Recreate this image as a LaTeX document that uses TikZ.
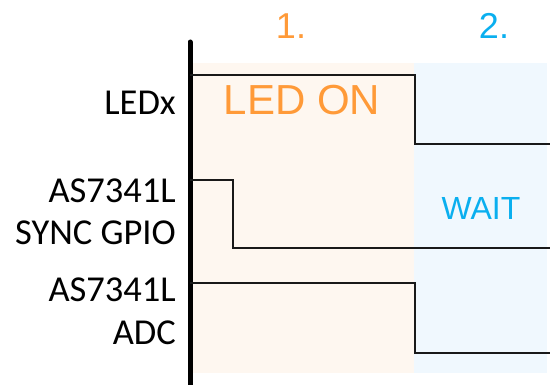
\documentclass[tikz,border=0pt]{standalone}
\usepackage{fontspec}
\setmainfont{Carlito}
\newfontfamily\arialf{Liberation Sans}
\definecolor{phaseorange}{HTML}{FF9A38}
\definecolor{phaseblue}{HTML}{0AAFEF}
\definecolor{fillorange}{HTML}{FEF7F0}
\definecolor{fillblue}{HTML}{F0F8FE}
\tikzset{
  siglabel/.style={anchor=base east, inner sep=0pt, align=right, font=\fontsize{36.5}{42}\selectfont},
  phasetitle/.style={anchor=base, inner sep=0pt, font=\arialf\fontsize{36}{42}\selectfont},
  wave/.style={draw=black!90, line width=2pt},
  axisline/.style={draw=black, line width=5pt, line cap=round}
}
\begin{document}
\begin{tikzpicture}[x=1pt,y=-1pt]
\useasboundingbox (0,0) rectangle (550,385);
% backgrounds
\fill[fillorange] (192,63) rectangle (414,373);
\fill[fillblue] (414,63) rectangle (547,373);
% axis
\coordinate (axtop) at (190,42);
\coordinate (axbot) at (190,390);
\draw[axisline] (axtop) -- (axbot);
% phase titles
\node[phasetitle, text=phaseorange] (p1) at (291,39) {1.};
\node[phasetitle, text=phaseblue] (p2) at (494,39) {2.};
\node[anchor=base, inner sep=0pt, text=phaseorange, font=\arialf\fontsize{42}{48}\selectfont] (ledon) at (302,115) {LED ON};
\node[anchor=base, inner sep=0pt, text=phaseblue, font=\arialf\fontsize{32}{36}\selectfont] (wait) at (481,220) {WAIT};
% signal labels
\node[siglabel] (l1) at (176,115) {LEDx};
\node[siglabel] (l2a) at (176,203) {AS7341L};
\node[siglabel] (l2b) at (176,245) {SYNC GPIO};
\node[siglabel] (l3a) at (176,302) {AS7341L};
\node[siglabel] (l3b) at (176,345) {ADC};
% waveforms
\draw[wave] (190,75) -- (415,75) -- (415,144) -- (550,144);
\draw[wave] (190,180) -- (233,180) -- (233,248) -- (550,248);
\draw[wave] (190,283) -- (415,283) -- (415,353) -- (550,353);
\end{tikzpicture}
\end{document}
